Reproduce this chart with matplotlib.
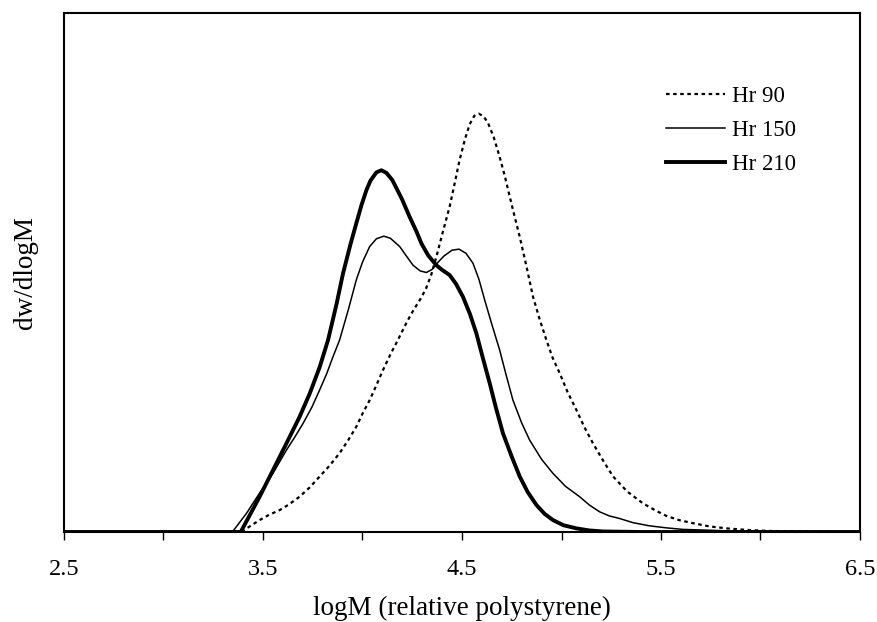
##=========== Import dependencies =========
import numpy as np
import matplotlib
matplotlib.use('Agg')
import matplotlib.pyplot as plt

#================================================================
#============================ DATA ==============================
#================================================================
# GPC traces (logM vs normalised dw/dlogM)

# --- Hr 90 (dotted)
logm_hr90 = [2.5, 3.39, 3.43, 3.483, 3.53, 3.583, 3.63, 3.684, 3.735, 3.785, 3.835, 3.885,
             3.93, 3.969, 4.0, 4.036, 4.07, 4.103, 4.14, 4.178, 4.21, 4.246, 4.27, 4.296,
             4.32, 4.345, 4.371, 4.405, 4.438, 4.465, 4.488, 4.515, 4.539, 4.562, 4.584,
             4.608, 4.631, 4.66, 4.689, 4.715, 4.740, 4.765, 4.790, 4.825, 4.857, 4.89,
             4.924, 4.955, 4.991, 5.03, 5.075, 5.115, 5.158, 5.21, 5.259, 5.33, 5.410,
             5.47, 5.527, 5.59, 5.661, 5.74, 5.829, 5.93, 6.046, 6.2, 6.5]
dw_hr90 = [0.0, 0.0, 0.010, 0.023, 0.033, 0.042, 0.053, 0.068, 0.086, 0.107, 0.128, 0.152,
           0.178, 0.203, 0.228, 0.254, 0.283, 0.312, 0.342, 0.370, 0.395, 0.421, 0.436, 0.452,
           0.470, 0.495, 0.530, 0.580, 0.627, 0.675, 0.717, 0.757, 0.786, 0.802, 0.806,
           0.801, 0.788, 0.760, 0.723, 0.686, 0.646, 0.607, 0.569, 0.510, 0.453, 0.410,
           0.370, 0.336, 0.306, 0.270, 0.235, 0.202, 0.171, 0.137, 0.107, 0.078, 0.055,
           0.042, 0.031, 0.023, 0.017, 0.011, 0.007, 0.004, 0.002, 0.001, 0.0]

# --- Hr 150 (thin)
logm_hr150 = [2.5, 3.346, 3.417, 3.483, 3.55, 3.618, 3.66, 3.701, 3.745, 3.785, 3.82, 3.852,
              3.885, 3.93, 3.969, 4.0, 4.036, 4.07, 4.107, 4.14, 4.187, 4.22, 4.254, 4.29,
              4.321, 4.35, 4.38, 4.41, 4.45, 4.485, 4.52, 4.555, 4.585, 4.614, 4.65, 4.689,
              4.72, 4.756, 4.8, 4.84, 4.9, 4.957, 5.02, 5.091, 5.14, 5.191, 5.24, 5.292,
              5.359, 5.44, 5.527, 5.61, 5.694, 5.85, 6.0, 6.5]
dw_hr150 = [0.0, 0.0, 0.036, 0.075, 0.113, 0.158, 0.183, 0.209, 0.240, 0.274, 0.305, 0.338,
            0.370, 0.430, 0.486, 0.520, 0.550, 0.565, 0.570, 0.566, 0.550, 0.532, 0.514, 0.503,
            0.500, 0.506, 0.520, 0.532, 0.543, 0.545, 0.537, 0.518, 0.487, 0.447, 0.400, 0.351,
            0.305, 0.254, 0.210, 0.177, 0.140, 0.113, 0.088, 0.068, 0.052, 0.039, 0.031, 0.026,
            0.018, 0.012, 0.008, 0.005, 0.004, 0.002, 0.001, 0.0]

# --- Hr 210 (thick)
logm_hr210 = [2.5, 3.388, 3.483, 3.55, 3.618, 3.684, 3.735, 3.785, 3.827, 3.87, 3.902, 3.94,
              3.969, 3.995, 4.02, 4.04, 4.07, 4.095, 4.12, 4.15, 4.17, 4.2, 4.237, 4.27,
              4.296, 4.33, 4.371, 4.40, 4.438, 4.47, 4.505, 4.54, 4.572, 4.605, 4.639, 4.67,
              4.706, 4.75, 4.79, 4.83, 4.874, 4.915, 4.957, 5.01, 5.075, 5.14, 5.21, 5.4, 6.5]
dw_hr210 = [0.0, 0.0, 0.068, 0.119, 0.171, 0.222, 0.267, 0.318, 0.370, 0.440, 0.498, 0.555,
            0.595, 0.630, 0.659, 0.677, 0.693, 0.697, 0.692, 0.678, 0.663, 0.640, 0.607, 0.580,
            0.556, 0.533, 0.514, 0.505, 0.495, 0.478, 0.453, 0.420, 0.383, 0.335, 0.287, 0.240,
            0.190, 0.145, 0.107, 0.077, 0.052, 0.035, 0.023, 0.013, 0.007, 0.003, 0.001, 0.0, 0.0]

xtick_pos = [2.5, 3.0, 3.5, 4.0, 4.5, 5.0, 5.5, 6.0, 6.5]
xtick_lab = ['2.5', '', '3.5', '', '4.5', '', '5.5', '', '6.5']

#================================================================
#=========================== FIGURE =============================
#================================================================
plt.rcParams['font.family'] = ['Liberation Serif', 'DejaVu Serif']

fig = plt.figure(figsize=(8.78, 6.22), dpi=100)
ax = fig.add_axes([64/878, 1 - 532/622, (860 - 64)/878, (532 - 13)/622])

ax.plot(logm_hr90, dw_hr90, color='black', lw=1.6, linestyle=(0, (1.6, 1.6)), label='Hr 90')
ax.plot(logm_hr150, dw_hr150, color='black', lw=1.1, label='Hr 150')
ax.plot(logm_hr210, dw_hr210, color='black', lw=2.8, label='Hr 210')

ax.set_xlim(2.5, 6.5)
ax.set_ylim(0, 1)
ax.set_xticks(xtick_pos)
ax.set_xticklabels(xtick_lab, fontsize=17.5)
ax.set_yticks([])
ax.tick_params(axis='x', direction='out', length=5.5, width=1.0, pad=14)
for s in ax.spines.values():
    s.set_linewidth(1.5)

ax.set_xlabel('logM (relative polystyrene)', fontsize=19.5, labelpad=11)
ax.set_ylabel('dw/dlogM', fontsize=19.5, labelpad=19)

# legend top-right, no frame
ax.legend(loc='upper left', bbox_to_anchor=(0.756, 0.86), frameon=False, fontsize=16.5,
          handlelength=2.6, handletextpad=0.3, labelspacing=0.58, borderpad=0, borderaxespad=0)

fig.savefig('out.png', dpi=100)
